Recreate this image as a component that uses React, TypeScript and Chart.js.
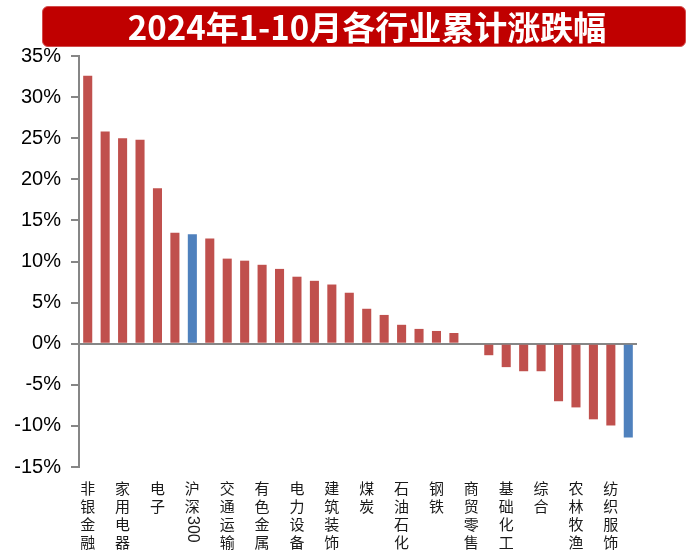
import React, { useEffect, useRef } from "react";
import { Chart, registerables } from "chart.js";

Chart.register(...registerables);

const titleText = "2024年1-10月各行业累计涨跌幅";

const categories: string[] = [
  "非银金融", "", "家用电器", "", "电子", "", "沪深300", "",
  "交通运输", "", "有色金属", "", "电力设备", "", "建筑装饰", "",
  "煤炭", "", "石油石化", "", "钢铁", "", "商贸零售", "",
  "基础化工", "", "综合", "", "农林牧渔", "", "纺织服饰", "",
];

const values: number[] = [
  32.6, 25.8, 25.0, 24.8, 18.9, 13.5, 13.3, 12.8,
  10.35, 10.1, 9.6, 9.1, 8.15, 7.65, 7.2, 6.2,
  4.25, 3.5, 2.3, 1.8, 1.55, 1.3, 0, -1.4,
  -2.85, -3.35, -3.35, -7.0, -7.75, -9.2, -9.95, -11.4,
];

const benchmarkIndices: number[] = [6, 31];

const yMin = -15;
const yMax = 35;
const yStep = 5;

const RED = "#C0504D";
const BLUE = "#4F81BD";
const AXIS = "#868686";

const verticalLabels = {
  id: "verticalLabels",
  afterDraw(chart: any) {
    const ctx = chart.ctx;
    const xs = chart.scales.x;
    const top = 481;
    const lh = 18;
    ctx.save();
    ctx.fillStyle = "#1a1a1a";
    categories.forEach((lab, i) => {
      if (!lab) return;
      const x = xs.getPixelForValue(i);
      let y = top;
      const m = lab.match(/^([^0-9]*)([0-9]+)$/);
      const cjk = m ? m[1] : lab;
      const digits = m ? m[2] : "";
      ctx.font = '15px "Noto Sans CJK SC"';
      ctx.textAlign = "center";
      ctx.textBaseline = "top";
      for (const ch of cjk) {
        ctx.fillText(ch, x, y);
        y += lh;
      }
      if (digits) {
        ctx.save();
        ctx.translate(x, y - 1);
        ctx.rotate(Math.PI / 2);
        ctx.font = '16px "Liberation Sans"';
        ctx.textAlign = "left";
        ctx.textBaseline = "middle";
        ctx.fillText(digits, 0, 0);
        ctx.restore();
      }
    });
    ctx.restore();
  },
};

export default function App() {
  const ref = useRef<HTMLCanvasElement | null>(null);

  useEffect(() => {
    document.body.style.margin = "0";
    if (!ref.current) return;
    const colors = values.map((_, i) => (benchmarkIndices.includes(i) ? BLUE : RED));
    const chart = new Chart(ref.current, {
      type: "bar",
      data: {
        labels: categories,
        datasets: [
          {
            data: values,
            backgroundColor: colors,
            borderWidth: 0,
            barPercentage: 0.52,
            categoryPercentage: 1,
          },
        ],
      },
      options: {
        animation: false,
        responsive: false,
        devicePixelRatio: 1,
        layout: { padding: { left: 0, top: 56, right: 50, bottom: 83 } },
        plugins: {
          legend: { display: false },
          tooltip: { enabled: false },
          title: { display: false },
        },
        scales: {
          x: {
            display: false,
            offset: true,
          },
          y: {
            min: yMin,
            max: yMax,
            afterFit: (scale: any) => {
              scale.width = 79;
            },
            ticks: {
              stepSize: yStep,
              callback: (v: any) => `${v}%`,
              font: { family: '"Liberation Sans", Arial, sans-serif', size: 20 },
              color: "#000",
              padding: 10,
            },
            grid: {
              drawOnChartArea: true,
              color: (c: any) => (c.tick && c.tick.value === 0 ? AXIS : "rgba(0,0,0,0)"),
              tickColor: AXIS,
              tickLength: 8,
              lineWidth: 2,
            },
            border: { color: AXIS, width: 2 },
          },
        },
      },
      plugins: [verticalLabels],
    });
    return () => chart.destroy();
  }, []);

  return (
    <div style={{ position: "relative", width: 687, height: 550, background: "#fff" }}>
      <canvas ref={ref} width={687} height={550} style={{ position: "absolute", left: 0, top: 0 }} />
      <div
        style={{
          position: "absolute",
          left: 42,
          top: 6,
          width: 644,
          height: 41,
          boxSizing: "border-box",
          background: "#C00000",
          border: "1px solid #D24C4C",
          borderRadius: 6,
          color: "#fff",
          fontFamily: '"Noto Sans CJK SC", sans-serif',
          fontWeight: 700,
          fontSize: 33,
          lineHeight: "39px",
          textAlign: "center",
          paddingLeft: 6,
          whiteSpace: "nowrap",
        }}
      >
        {titleText}
      </div>
    </div>
  );
}
